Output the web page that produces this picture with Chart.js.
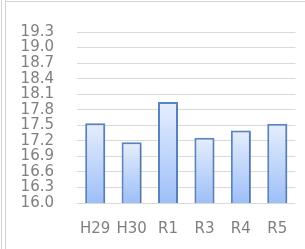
<!DOCTYPE html>
<html>
<head>
<meta charset="utf-8">
<script src="https://cdn.jsdelivr.net/npm/chart.js@4"></script>
<style>
  html, body { margin: 0; padding: 0; background: #fff; }
  #wrap { width: 305px; height: 249px; position: relative; }
</style>
</head>
<body>
<div id="wrap"><canvas id="c"></canvas></div>
<script>
const categories = ['H29', 'H30', 'R1', 'R3', 'R4', 'R5'];
const values = [17.54, 17.17, 17.95, 17.26, 17.40, 17.53];
const yTicks = [16.0, 16.3, 16.6, 16.9, 17.2, 17.5, 17.8, 18.1, 18.4, 18.7, 19.0, 19.3];

const FONT = 'DejaVu Sans';

// per-bar vertical gradient, light at the top
function barFill(ctx) {
  const chart = ctx.chart;
  const y = chart.scales.y;
  if (!chart.chartArea || !y || ctx.raw == null) return '#c3d7fa';
  const top = y.getPixelForValue(ctx.raw);
  const bot = y.getPixelForValue(yTicks[0]);
  const g = chart.ctx.createLinearGradient(0, top, 0, bot);
  g.addColorStop(0, '#e6eefd');
  g.addColorStop(1, '#9dbff8');
  return g;
}

const frame = {
  id: 'frame',
  beforeDraw(chart) {
    const c = chart.ctx;
    c.save();
    c.strokeStyle = '#d4d4d4';
    c.lineWidth = 1;
    c.beginPath();
    c.moveTo(1.5, 0); c.lineTo(1.5, chart.height);
    c.moveTo(5.5, 0); c.lineTo(5.5, chart.height);
    c.moveTo(5.5, 1.5); c.lineTo(chart.width, 1.5);
    c.stroke();
    c.restore();
  },
  // soft drop shadow under the bars
  beforeDatasetsDraw(chart) {
    const c = chart.ctx;
    c.save();
    c.shadowColor = 'rgba(0,0,0,0.22)';
    c.shadowBlur = 3;
    c.shadowOffsetX = 1;
    c.shadowOffsetY = 1;
  },
  afterDatasetsDraw(chart) {
    chart.ctx.restore();
  }
};

new Chart(document.getElementById('c'), {
  type: 'bar',
  data: {
    labels: categories,
    datasets: [{
      data: values,
      backgroundColor: barFill,
      borderColor: '#5a86c4',
      borderWidth: 2,
      categoryPercentage: 1,
      barPercentage: 0.55
    }]
  },
  options: {
    responsive: true,
    maintainAspectRatio: false,
    animation: false,
    layout: { padding: { top: 30, right: 9, bottom: 11, left: 20 } },
    plugins: { legend: { display: false }, tooltip: { enabled: false } },
    scales: {
      x: {
        afterFit: (s) => { s.height = 35; },
        grid: { display: false, drawTicks: false },
        border: { display: false },
        ticks: {
          color: '#7f7f7f', font: { family: FONT, size: 15 }, padding: 17,
          minRotation: 0, maxRotation: 0, autoSkip: false
        }
      },
      y: {
        min: yTicks[0],
        max: yTicks[yTicks.length - 1],
        afterBuildTicks: (s) => { s.ticks = yTicks.map(v => ({ value: v })); },
        afterFit: (s) => { s.width = 57; },
        grid: { color: '#d9d9d9', drawTicks: false },
        border: { display: false },
        ticks: {
          color: '#7f7f7f',
          font: { family: FONT, size: 15 },
          padding: 23,
          autoSkip: false,
          callback: (v) => Number(v).toFixed(1)
        }
      }
    }
  },
  plugins: [frame]
});
</script>
</body>
</html>
